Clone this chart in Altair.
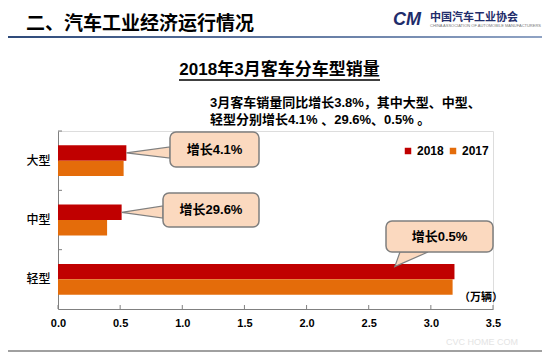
import altair as alt
import pandas as pd

# ---------------- data ----------------
categories = ["大型", "中型", "轻型"]
years = ["2018", "2017"]
sales_2018 = [0.55, 0.512, 3.19]
sales_2017 = [0.528, 0.395, 3.175]
growth_labels = ["增长4.1%", "增长29.6%", "增长0.5%"]
x_ticks = [0.0, 0.5, 1.0, 1.5, 2.0, 2.5, 3.0, 3.5]
colors = ["#C00000", "#E46C0A"]

W, H = 435, 178
XMAX = 3.5

rows = []
for c, a, b in zip(categories, sales_2018, sales_2017):
    rows.append({"cat": c, "year": "2018", "val": a})
    rows.append({"cat": c, "year": "2017", "val": b})
df = pd.DataFrame(rows)

CJK = "Liberation Sans, Noto Sans CJK SC"
one = pd.DataFrame({"a": [0]})

PI, PO = 0.48, 0.24
yscale = alt.Scale(domain=categories, paddingInner=PI, paddingOuter=PO)
xscale = alt.Scale(domain=[0, XMAX], nice=False, zero=True)
step = H / (3 - PI + 2 * PO)
bw = step * (1 - PI)

bars = alt.Chart(df).mark_bar().encode(
    y=alt.Y("cat:N", sort=categories, scale=yscale,
            axis=alt.Axis(title=None, ticks=False, labelPadding=8, labelFontSize=12,
                          labelFont="Noto Sans CJK SC", labelColor="black", labelFontWeight=500,
                          domainColor="#808080", grid=False)),
    yOffset=alt.YOffset("year:N", sort=years, scale=alt.Scale(domain=years, paddingInner=0, paddingOuter=0)),
    x=alt.X("val:Q", scale=xscale,
            axis=alt.Axis(title=None, values=x_ticks, format=".1f", ticks=False, labelPadding=8,
                          labelFontSize=11, labelFontWeight="bold", labelFont="Liberation Sans",
                          labelColor="black", domainColor="#808080", grid=False,
                          labelFlush=False)),
    color=alt.Color("year:N", sort=years, scale=alt.Scale(domain=years, range=colors),
                    legend=alt.Legend(title=None, orient="none", legendX=344, legendY=14,
                                      direction="horizontal", symbolType="square", symbolSize=42,
                                      symbolStrokeWidth=0, labelFontSize=12, labelFontWeight="bold",
                                      labelFont="Liberation Sans", labelColor="black",
                                      columnPadding=3, labelOffset=3)),
)

# inward x ticks
xt = alt.Chart(pd.DataFrame({"t": x_ticks})).mark_rule(color="#808080").encode(
    x=alt.X("t:Q", scale=xscale),
    y=alt.value(H - 4), y2=alt.value(H),
)
# inward y ticks at band boundaries
yt = alt.Chart(pd.DataFrame({"cat": categories})).mark_rule(color="#808080", yOffset=-PO * step).encode(
    y=alt.Y("cat:N", sort=categories, scale=yscale, bandPosition=0),
    x=alt.value(0), x2=alt.value(4),
)

# ---------------- callouts (pixel space) ----------------
def bar_mid(i):
    return PO * step + i * step + bw / 4

tips = [(sales_2018[i] * W / XMAX, bar_mid(i)) for i in range(2)]
tips.append((2.71 * W / XMAX, bar_mid(2) - 5))

boxes = pd.DataFrame({
    "x1": [112, 105, 328], "x2": [201, 201, 435],
    "y1": [1, 62, 90], "y2": [36, 96, 121],
    "label": growth_labels,
})
boxes["xc"] = (boxes.x1 + boxes.x2) / 2
boxes["yc"] = (boxes.y1 + boxes.y2) / 2

FILL = "#FBD9BF"
EDGE = "#7F7F7F"

w1 = pd.DataFrame({"px": [tips[0][0], 112], "py": [tips[0][1], 16], "py2": [tips[0][1], 27]})
w2 = pd.DataFrame({"px": [tips[1][0], 105], "py": [tips[1][1], 75], "py2": [tips[1][1], 87]})
w3 = pd.DataFrame({"py": [tips[2][1], 121], "px": [tips[2][0], 342], "px2": [tips[2][0], 370]})

def wedge_v(d):
    return alt.Chart(d).mark_area(orient="vertical", fill=FILL, stroke=EDGE, strokeWidth=1.2).encode(
        x=alt.X("px:Q", scale=None, axis=None),
        y=alt.Y("py:Q", scale=None, axis=None),
        y2="py2:Q",
    )

wedge3 = alt.Chart(w3).mark_area(orient="horizontal", fill=FILL, stroke=EDGE, strokeWidth=1.2).encode(
    y=alt.Y("py:Q", scale=None, axis=None),
    x=alt.X("px:Q", scale=None, axis=None),
    x2="px2:Q",
)

box_rects = alt.Chart(boxes).mark_rect(fill=FILL, stroke=EDGE, strokeWidth=1.5, cornerRadius=6).encode(
    x=alt.X("x1:Q", scale=None, axis=None), x2="x2:Q",
    y=alt.Y("y1:Q", scale=None, axis=None), y2="y2:Q",
)
box_text = alt.Chart(boxes).mark_text(fontSize=13, fontWeight="bold", font=CJK, color="black",
                                      align="center", baseline="middle").encode(
    x=alt.X("xc:Q", scale=None, axis=None),
    y=alt.Y("yc:Q", scale=None, axis=None),
    text="label:N",
)

# ---------------- decorations ----------------
def txt(s, x, y, size, weight="bold", align="left", color="black", font=CJK, style="normal"):
    return alt.Chart(one).mark_text(fontSize=size, fontWeight=weight, align=align, baseline="middle",
                                    color=color, font=font, fontStyle=style).encode(
        x=alt.value(x), y=alt.value(y), text=alt.value(s))

header = txt("二、汽车工业经济运行情况", -32, -107, 19, font="Noto Sans CJK SC")
header_bar = alt.Chart(one).mark_rect(
    fill=alt.LinearGradient(gradient="linear", x1=0, x2=1, y1=0, y2=0,
                            stops=[alt.GradientStop(offset=0, color="#2E4A7A"),
                                   alt.GradientStop(offset=1, color="#8FA3C4")])
).encode(x=alt.value(-50), x2=alt.value(484), y=alt.value(-95), y2=alt.value(-93))
logo_cm = txt("CM", 335, -111, 18, style="italic", color="#1F2D6B", font="Liberation Sans")
logo_cn = txt("中国汽车工业协会", 372, -113, 11, color="#1F2D6B", font="Noto Sans CJK SC")
logo_en = txt("CHINA ASSOCIATION OF AUTOMOBILE MANUFACTURERS", 372, -105, 4, weight="normal",
              color="#777777", font="Liberation Sans")
title = txt("2018年3月客车分车型销量", 221.5, -61, 17, align="center")
title_ul = alt.Chart(one).mark_rule(color="black", strokeWidth=1.5).encode(
    x=alt.value(121), x2=alt.value(322), y=alt.value(-51))
sub1 = txt("3月客车销量同比增长3.8%，其中大型、中型、", 152, -28, 13)
sub2 = txt("轻型分别增长4.1% 、29.6%、0.5% 。", 152, -11, 13)
unit = txt("（万辆）", 445, 167, 11, align="right")
bottom_line = alt.Chart(one).mark_rule(color="#808080", strokeWidth=1.5).encode(
    x=alt.value(-50), x2=alt.value(484), y=alt.value(220))
wm2 = txt("CVC HOME COM", 388, 211, 9, weight="normal", color="#E4E4E4", font="Liberation Sans")

chart = alt.layer(
    bars, xt, yt,
    wedge_v(w1), wedge_v(w2), wedge3, box_rects, box_text,
    header, header_bar, logo_cm, logo_cn, logo_en, title, title_ul, sub1, sub2,
    unit, bottom_line, wm2,
).properties(
    width=W, height=H,
    padding={"left": 50, "top": 123, "right": 49, "bottom": 43},
    autosize=alt.AutoSizeParams(type="none"),
).configure_view(stroke=None).configure(background="white")

chart.save("out.html", embed_options={"renderer": "svg", "actions": False})
